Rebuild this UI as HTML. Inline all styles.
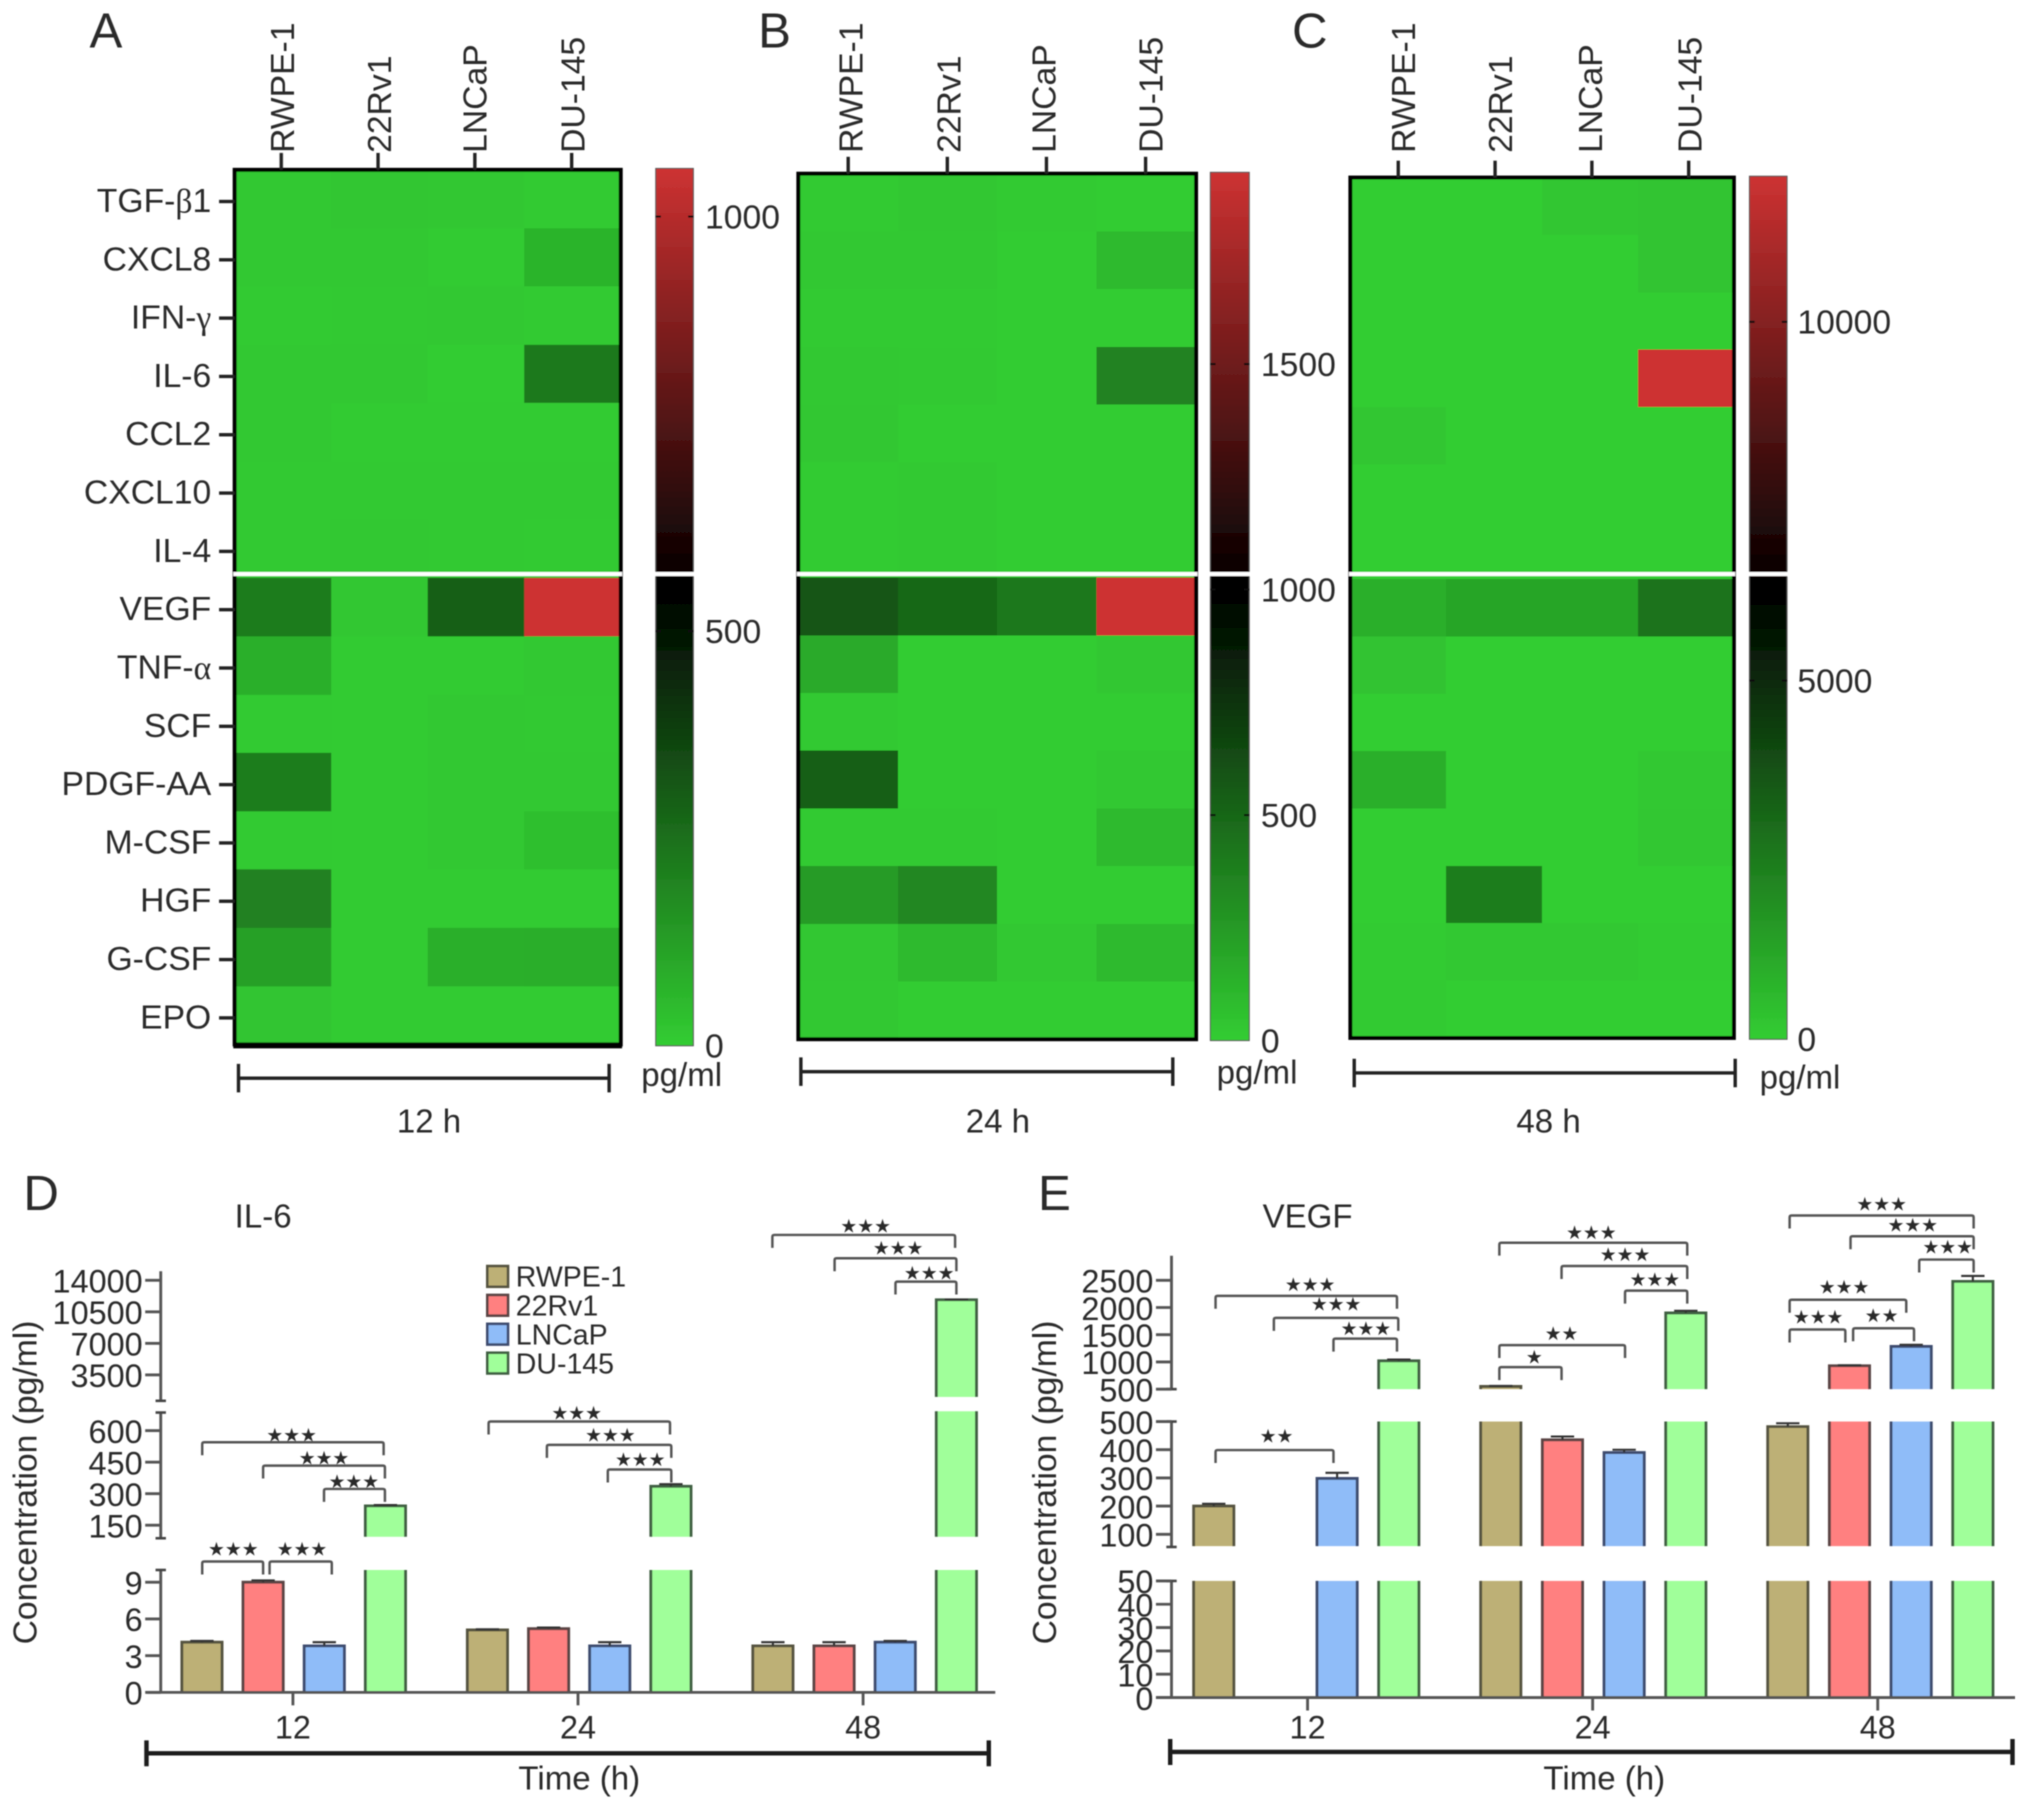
<!DOCTYPE html>
<html lang="en">
<head>
<meta charset="utf-8">
<title>Cytokine heatmaps and concentration bars</title>
<style>
html,body{margin:0;padding:0;background:#fff;}
svg{display:block;}
text{font-family:"Liberation Sans",sans-serif;fill:#2a2a2a;}
</style>
</head>
<body>
<svg id="figure" xmlns="http://www.w3.org/2000/svg" width="2032" height="1809" viewBox="0 0 1568 1396">
  <defs>
    <filter id="soft" x="0" y="0" width="100%" height="100%"><feGaussianBlur stdDeviation="0.45"/></filter>
    <linearGradient id="cbar-gradient" x1="0" y1="1" x2="0" y2="0">
      <stop offset="0" stop-color="rgb(50,205,50)"/>
      <stop offset="0.52" stop-color="rgb(0,0,0)"/>
      <stop offset="1" stop-color="rgb(205,50,50)"/>
    </linearGradient>
  </defs>
  <rect x="0" y="0" width="1568" height="1396" fill="#fff"/>
  <g id="root" filter="url(#soft)">
    <g id="panel-a"></g>
    <g id="panel-b"></g>
    <g id="panel-c"></g>
    <g id="panel-d"></g>
    <g id="panel-e"></g>
    <g id="legend"></g>
  </g>
</svg>
<script>
/* ---------- heatmap data (pg/ml) ---------- */
const analytes = ["TGF-β1","CXCL8","IFN-γ","IL-6","CCL2","CXCL10","IL-4","VEGF","TNF-α","SCF","PDGF-AA","M-CSF","HGF","G-CSF","EPO"];
const cellLines = ["RWPE-1","22Rv1","LNCaP","DU-145"];
const heat12h = [
  [12,18,15,8],[12,12,5,65],[8,10,12,8],[12,14,3,218],[12,5,5,5],
  [10,10,10,10],[10,14,10,8],[210,15,285,1058],[78,5,5,12],[8,5,12,10],
  [207,5,12,12],[8,5,12,35],[195,5,5,5],[116,5,78,80],[20,5,5,5]
];
const heat24h = [
  [15,30,15,5],[25,25,5,90],[15,15,5,5],[25,20,5,354],[30,5,5,5],
  [10,20,5,5],[10,20,5,5],[566,472,400,1925],[165,5,5,30],[20,5,5,5],
  [519,5,5,25],[15,15,5,90],[236,330,5,5],[30,90,25,90],[25,5,5,5]
];
const heat48h = [
  [5,5,200,250],[5,5,5,250],[5,5,5,5],[5,5,5,12030],[200,5,5,5],
  [5,5,5,5],[5,5,5,5],[880,1180,1180,2650],[300,5,5,5],[5,5,5,5],
  [880,5,5,150],[5,5,5,180],[5,2350,5,5],[50,150,150,50],[100,5,5,5]
];
const scaleMax12h = 1058;
const scaleMax24h = 1925;
const scaleMax48h = 12030;
const scaleTicks12h = [0,500,1000];
const scaleTicks24h = [0,500,1000,1500];
const scaleTicks48h = [0,5000,10000];

/* ---------- bar chart data (pg/ml) ---------- */
const timePoints = ["12","24","48"];
const seriesNames = ["RWPE-1","22Rv1","LNCaP","DU-145"];
const il6Rwpe = [4.1,5.1,3.8];
const il622Rv1 = [9.0,5.2,3.8];
const il6Lncap = [3.8,3.8,4.1];
const il6Du145 = [242,335,11840];
const il6RwpeErr = [0.1,0.05,0.3];
const il622Rv1Err = [0.15,0.1,0.3];
const il6LncapErr = [0.3,0.3,0.1];
const il6Du145Err = [4,10,30];
const vegfRwpe = [200,550,482];
const vegf22Rv1 = [0,435,930];
const vegfLncap = [298,390,1285];
const vegfDu145 = [1020,1900,2480];
const vegfRwpeErr = [8,10,12];
const vegf22Rv1Err = [0,12,8];
const vegfLncapErr = [20,10,30];
const vegfDu145Err = [25,40,100];
const il6TicksLow = [0,3,6,9];
const il6TicksMid = [150,300,450,600];
const il6TicksHigh = [3500,7000,10500,14000];
const vegfTicksLow = [0,10,20,30,40,50];
const vegfTicksMid = [100,200,300,400,500];
const vegfTicksHigh = [500,1000,1500,2000,2500];

const seriesFill = ["#BDB076","#FF8080","#8FBCF8","#A0FF9A"];
const seriesEdge = ["#55533f","#5a4444","#3d4c6e","#3f5f42"];
const NS = "http://www.w3.org/2000/svg";

function svgEl(tag, attrs, parent){
  const el = document.createElementNS(NS, tag);
  for (const k in attrs) el.setAttribute(k, attrs[k]);
  parent.appendChild(el);
  return el;
}
function text(parent, x, y, str, size, anchor, name, rotate){
  const el = document.createElementNS(NS, "text");
  el.setAttribute("x", x);
  el.setAttribute("y", y);
  el.setAttribute("font-size", size);
  el.setAttribute("text-anchor", anchor);
  if (rotate) { el.setAttribute("transform", "rotate(-90 " + x + " " + y + ")"); }
  else { el.setAttribute("dominant-baseline", "central"); }
  el.innerHTML = str.replace(/[αβγ]/g, m => '<tspan font-family="Liberation Serif">' + m + '</tspan>');
  
  
  parent.appendChild(el);
  return el;
}
function colorOf(v, max){
  const t = Math.min(1, Math.max(0, v / max));
  if (t < 0.5) {
    const k = 1 - 2 * t;
    return "rgb(" + Math.round(50*k) + "," + Math.round(205*k) + "," + Math.round(50*k) + ")";
  }
  const k = 2 * t - 1;
  return "rgb(" + Math.round(205*k) + "," + Math.round(50*k) + "," + Math.round(50*k) + ")";
}

/* ---------- heatmap ---------- */
function drawHeatmap(cfg){
  const g = document.getElementById(cfg.id);
  const colW = (cfg.right - cfg.left) / cellLines.length;
  const rowH = (cfg.bottom - cfg.top) / analytes.length;
  const xCell = c => cfg.left + c * colW;
  const yCell = r => cfg.top + r * rowH;
  const yScale = v => cfg.barBottom - (v / cfg.max) * (cfg.barBottom - cfg.barTop);

  cfg.values.forEach((row, r) => row.forEach((v, c) => {
    const cell = svgEl("rect", {x:xCell(c), y:yCell(r), width:colW+0.5, height:rowH+0.5, fill:colorOf(v,cfg.max), "shape-rendering":"crispEdges"}, g);
    
    
  }));

  const frame = svgEl("rect", {x:cfg.left, y:cfg.top, width:cfg.right-cfg.left, height:cfg.bottom-cfg.top, fill:"none", stroke:"#000", "stroke-width":3}, g);
  
  

  if (cfg.thickBottom) {
    const base = svgEl("line", {x1:cfg.left-1, x2:cfg.right+1, y1:cfg.bottom+1, y2:cfg.bottom+1, stroke:"#000", "stroke-width":4}, g);
    
    
  }

  cellLines.forEach((name, c) => {
    const x = cfg.colTick(c);
    const tick = svgEl("line", {x1:x, x2:x, y1:cfg.top-13, y2:cfg.top, stroke:"#222", "stroke-width":2.6}, g);
    
    
    text(g, x + 10 + cfg.labelShift[c], 118, name, 26, "start", "column-label-" + name, true);
  });

  if (cfg.rowLabels) {
    const rowY = r => yCell(r) + rowH / 2;
    analytes.forEach((name, r) => {
      const tick = svgEl("line", {x1:cfg.left-12, x2:cfg.left, y1:rowY(r)+2, y2:rowY(r)+2, stroke:"#222", "stroke-width":2.6}, g);
      
      
      text(g, cfg.left-18, rowY(r)+2, name, 26, "end", "row-label-" + name);
    });
  }

  const bar = svgEl("rect", {x:cfg.barLeft, y:cfg.barTop, width:cfg.barRight-cfg.barLeft, height:cfg.barBottom-cfg.barTop, fill:"url(#cbar-gradient)", stroke:"#555", "stroke-width":0.8}, g);
  
  

  cfg.ticks.forEach(v => {
    const y = yScale(v);
    if (v > 0) {
      const t1 = svgEl("line", {x1:cfg.barLeft, x2:cfg.barLeft+4, y1:y, y2:y, stroke:"#111", "stroke-width":1.6}, g);
      
      
      const t2 = svgEl("line", {x1:cfg.barRight-4, x2:cfg.barRight, y1:y, y2:y, stroke:"#111", "stroke-width":1.6}, g);
      
      
    }
    text(g, cfg.barRight + cfg.labelGap, y + 1, String(v), 26, "start", "colorbar-label-" + v);
  });

  const sep = svgEl("line", {x1:cfg.left-1, x2:cfg.right+1, y1:443, y2:443, stroke:"#fff", "stroke-width":3.2}, g);
  
  
  const sep2 = svgEl("line", {x1:cfg.barLeft-1, x2:cfg.barRight+1, y1:443, y2:443, stroke:"#fff", "stroke-width":3.2}, g);
  
  

  const span = svgEl("path", {d:"M"+cfg.spanL+" "+(cfg.spanY-11)+"V"+(cfg.spanY+11)+"M"+cfg.spanL+" "+cfg.spanY+"H"+cfg.spanR+"M"+cfg.spanR+" "+(cfg.spanY-11)+"V"+(cfg.spanY+11), fill:"none", stroke:"#222", "stroke-width":2.6}, g);
  
  
  text(g, cfg.timeX, 866, cfg.time, 25.5, "middle", "time-label");
  text(g, cfg.unitX, cfg.unitY, "pg/ml", 25.5, "middle", "unit-label");
  text(g, cfg.letterX, 24, cfg.letter, 38, "start", "panel-letter-" + cfg.letter);
}

drawHeatmap({id:"panel-a", letter:"A", letterX:69, values:heat12h, max:scaleMax12h, ticks:scaleTicks12h,
  left:181, right:479, top:131, bottom:806, thickBottom:true, rowLabels:true,
  colTick:c => 217 + c * 74.7, labelShift:[0,0,-1,0],
  barLeft:506, barRight:535, barTop:130, barBottom:807, labelGap:9,
  spanL:184, spanR:470, spanY:832, time:"12 h", timeX:331, unitX:526, unitY:830});
drawHeatmap({id:"panel-b", letter:"B", letterX:585, values:heat24h, max:scaleMax24h, ticks:scaleTicks24h,
  left:616, right:923, top:134, bottom:802,
  colTick:c => 654.5 + c * 76.5, labelShift:[1,0,-3,3],
  barLeft:934, barRight:964, barTop:133, barBottom:803, labelGap:9,
  spanL:618, spanR:905, spanY:827, time:"24 h", timeX:770, unitX:970, unitY:828});
drawHeatmap({id:"panel-c", letter:"C", letterX:997, values:heat48h, max:scaleMax48h, ticks:scaleTicks48h,
  left:1042, right:1338, top:137, bottom:801,
  colTick:c => 1079 + c * 74.7, labelShift:[3,3,-2,0],
  barLeft:1350, barRight:1379, barTop:136, barBottom:802, labelGap:8,
  spanL:1045, spanR:1339, spanY:828, time:"48 h", timeX:1195, unitX:1389, unitY:832});

/* ---------- broken-axis bar charts ---------- */
function linear(v0, y0, v1, y1){
  return v => y0 + (v - v0) * (y1 - y0) / (v1 - v0);
}
function drawBars(cfg){
  const g = document.getElementById(cfg.id);
  const xBar = (i, j) => cfg.groupStart + i * cfg.groupStep + (j - 1.5) * cfg.barStep;

  cfg.segments.forEach(seg => {
    const ax = svgEl("line", {x1:cfg.axisX, x2:cfg.axisX, y1:seg.y(seg.axisLo), y2:seg.y(seg.axisHi), stroke:"#555", "stroke-width":2.2}, g);
    
    
    [seg.axisLo, seg.axisHi].forEach(v => {
      if (v === 0 || v === cfg.segments[cfg.segments.length-1].axisHi) return;
      const cap = svgEl("line", {x1:cfg.axisX-4, x2:cfg.axisX+4, y1:seg.y(v), y2:seg.y(v), stroke:"#444", "stroke-width":2}, g);
      
      
    });
    seg.ticks.forEach(v => {
      const y = seg.y(v);
      const tk = svgEl("line", {x1:cfg.axisX-12, x2:cfg.axisX, y1:y, y2:y, stroke:"#555", "stroke-width":2.2}, g);
      
      
      text(g, cfg.axisX-14, y+1, String(v), 25, "end", "y-tick-label-" + v);
    });
  });

  cfg.series.forEach((vals, j) => vals.forEach((v, i) => {
    const cx = xBar(i, j);
    const hw = 15.5;
    cfg.segments.forEach(seg => {
      if (v <= seg.barLo) return;
      const top = Math.min(v, seg.barHi);
      const y0 = seg.y(seg.barLo), y1 = seg.y(top);
      const rect = svgEl("rect", {x:cx-hw, y:y1, width:hw*2, height:y0-y1, fill:seriesFill[j]}, g);
      
      
      const closed = v <= seg.barHi;
      const d = "M"+(cx-hw)+" "+y0+"V"+y1+(closed ? "H"+(cx+hw) : "M"+(cx+hw)+" "+y1)+"V"+y0;
      const edge = svgEl("path", {d:d, fill:"none", stroke:seriesEdge[j], "stroke-width":2.2}, g);
      
      
      if (closed) {
        const ey = seg.y(v + cfg.errors[j][i]);
        const err = svgEl("path", {d:"M"+cx+" "+y1+"V"+ey+"M"+(cx-9)+" "+ey+"H"+(cx+9), fill:"none", stroke:"#333", "stroke-width":1.6}, g);
        
        
      }
    });
  }));

  const xa = svgEl("line", {x1:cfg.xAxisL, x2:cfg.xAxisR, y1:cfg.baseY, y2:cfg.baseY, stroke:"#555", "stroke-width":2.2}, g);
  
  
  timePoints.forEach((t, i) => {
    const x = cfg.tickStart + i * cfg.tickStep;
    const tk = svgEl("line", {x1:x, x2:x, y1:cfg.baseY, y2:cfg.baseY+10, stroke:"#555", "stroke-width":2.2}, g);
    
    
    text(g, x, 1333, t, 25, "middle", "x-tick-label-" + t);
  });

  const span = svgEl("path", {d:"M"+cfg.spanL+" "+(cfg.spanY-10)+"V"+(cfg.spanY+10)+"M"+cfg.spanL+" "+cfg.spanY+"H"+cfg.spanR+"M"+cfg.spanR+" "+(cfg.spanY-10)+"V"+(cfg.spanY+10), fill:"none", stroke:"#1c1c1c", "stroke-width":3.4}, g);
  
  
  text(g, cfg.timeX, 1373, "Time (h)", 25.5, "middle", "x-axis-title");
  text(g, cfg.yTitleX, 1144, "Concentration (pg/ml)", 26, "middle", "y-axis-title", true);
  text(g, cfg.titleX, 939, cfg.title, 25.5, "middle", "chart-title");
  text(g, cfg.letterX, 921, cfg.letter, 38, "start", "panel-letter-" + cfg.letter);
}

function bracket(panelId, x1, x2, y, starX, starY, stars){
  const g = document.getElementById(panelId);
  const p = svgEl("path", {d:"M"+x1+" "+(y+10)+"V"+(y+1.5)+"Q"+x1+" "+y+" "+(x1+1.5)+" "+y+"H"+(x2-1.5)+"Q"+x2+" "+y+" "+x2+" "+(y+1.5)+"V"+(y+10), fill:"none", stroke:"#555", "stroke-width":1.9}, g);
  
  
  const s = text(g, starX, starY, stars, 14.5, "middle", "significance-stars");
  s.style.fontFamily = '"DejaVu Sans",sans-serif';
}

const il6Low = linear(0, 1306, 9, 1221);
const il6Mid = linear(150, 1177, 600, 1104);
const il6High = linear(3500, 1061, 14000, 988);
drawBars({id:"panel-d", letter:"D", letterX:18, title:"IL-6", titleX:203, yTitleX:28,
  axisX:124, baseY:1306, xAxisL:113, xAxisR:768,
  groupStart:226.6, groupStep:220.3, barStep:47.2,
  tickStart:226, tickStep:220,
  spanL:113, spanR:763, spanY:1353, timeX:447,
  series:[il6Rwpe, il622Rv1, il6Lncap, il6Du145],
  errors:[il6RwpeErr, il622Rv1Err, il6LncapErr, il6Du145Err],
  segments:[
    {y:il6Low, ticks:il6TicksLow, axisLo:0, axisHi:10, barLo:0, barHi:10},
    {y:il6Mid, ticks:il6TicksMid, axisLo:88, axisHi:686, barLo:95, barHi:692},
    {y:il6High, ticks:il6TicksHigh, axisLo:622, axisHi:15000, barLo:1054, barHi:15000}
  ]});

const vegfLow = linear(0, 1310, 50, 1220);
const vegfMid = linear(100, 1184, 500, 1097);
const vegfHigh = linear(500, 1072, 2500, 988);
drawBars({id:"panel-e", letter:"E", letterX:801, title:"VEGF", titleX:1009, yTitleX:815,
  axisX:904, baseY:1310, xAxisL:892, xAxisR:1555,
  groupStart:1008, groupStep:221.5, barStep:47.6,
  tickStart:1009, tickStep:220,
  spanL:903, spanR:1553, spanY:1352, timeX:1238,
  series:[vegfRwpe, vegf22Rv1, vegfLncap, vegfDu145],
  errors:[vegfRwpeErr, vegf22Rv1Err, vegfLncapErr, vegfDu145Err],
  segments:[
    {y:vegfLow, ticks:vegfTicksLow, axisLo:0, axisHi:50, barLo:0, barHi:50},
    {y:vegfMid, ticks:vegfTicksMid, axisLo:55, axisHi:500, barLo:58, barHi:500},
    {y:vegfHigh, ticks:vegfTicksHigh, axisLo:500, axisHi:2950, barLo:500, barHi:2950}
  ]});

bracket("panel-d",156,296,1113,225,1108,"★★★");
bracket("panel-d",203,297,1131,250,1126,"★★★");
bracket("panel-d",250,297,1149,273,1144,"★★★");
bracket("panel-d",156,203,1205,180,1196,"★★★");
bracket("panel-d",208,256,1205,233,1196,"★★★");
bracket("panel-d",377,517,1097,445,1091,"★★★");
bracket("panel-d",422,518,1115,471,1108,"★★★");
bracket("panel-d",469,518,1134,494,1127,"★★★");
bracket("panel-d",596,737,953,668,947,"★★★");
bracket("panel-d",644,738,971,693,964,"★★★");
bracket("panel-d",691,738,989,717,983,"★★★");

bracket("panel-e",938,1078,1000,1011,992,"★★★");
bracket("panel-e",983,1079,1017,1031,1007,"★★★");
bracket("panel-e",1029,1078,1033,1054,1026,"★★★");
bracket("panel-e",938,1029,1119,985,1109,"★★");
bracket("panel-e",1157,1302,959,1228,952,"★★★");
bracket("panel-e",1205,1302,977,1254,969,"★★★");
bracket("panel-e",1254,1302,996,1277,988,"★★★");
bracket("panel-e",1157,1254,1038,1205,1030,"★★");
bracket("panel-e",1157,1205,1055,1184,1048,"★");
bracket("panel-e",1381,1523,938,1452,930,"★★★");
bracket("panel-e",1428,1523,954,1476,946,"★★★");
bracket("panel-e",1481,1523,972,1503,963,"★★★");
bracket("panel-e",1381,1471,1003,1423,994,"★★★");
bracket("panel-e",1381,1424,1026,1403,1017,"★★★");
bracket("panel-e",1430,1477,1025,1452,1016,"★★");

/* ---------- legend ---------- */
const legendGroup = document.getElementById("legend");
seriesNames.forEach((name, j) => {
  const y = 985 + j * 22.3;
  const sw = svgEl("rect", {x:376, y:y-8, width:16, height:16, fill:seriesFill[j], stroke:seriesEdge[j], "stroke-width":2}, legendGroup);
  
  
  text(legendGroup, 398, y+1, name, 22, "start", "legend-label-" + name);
});
</script>
</body>
</html>
